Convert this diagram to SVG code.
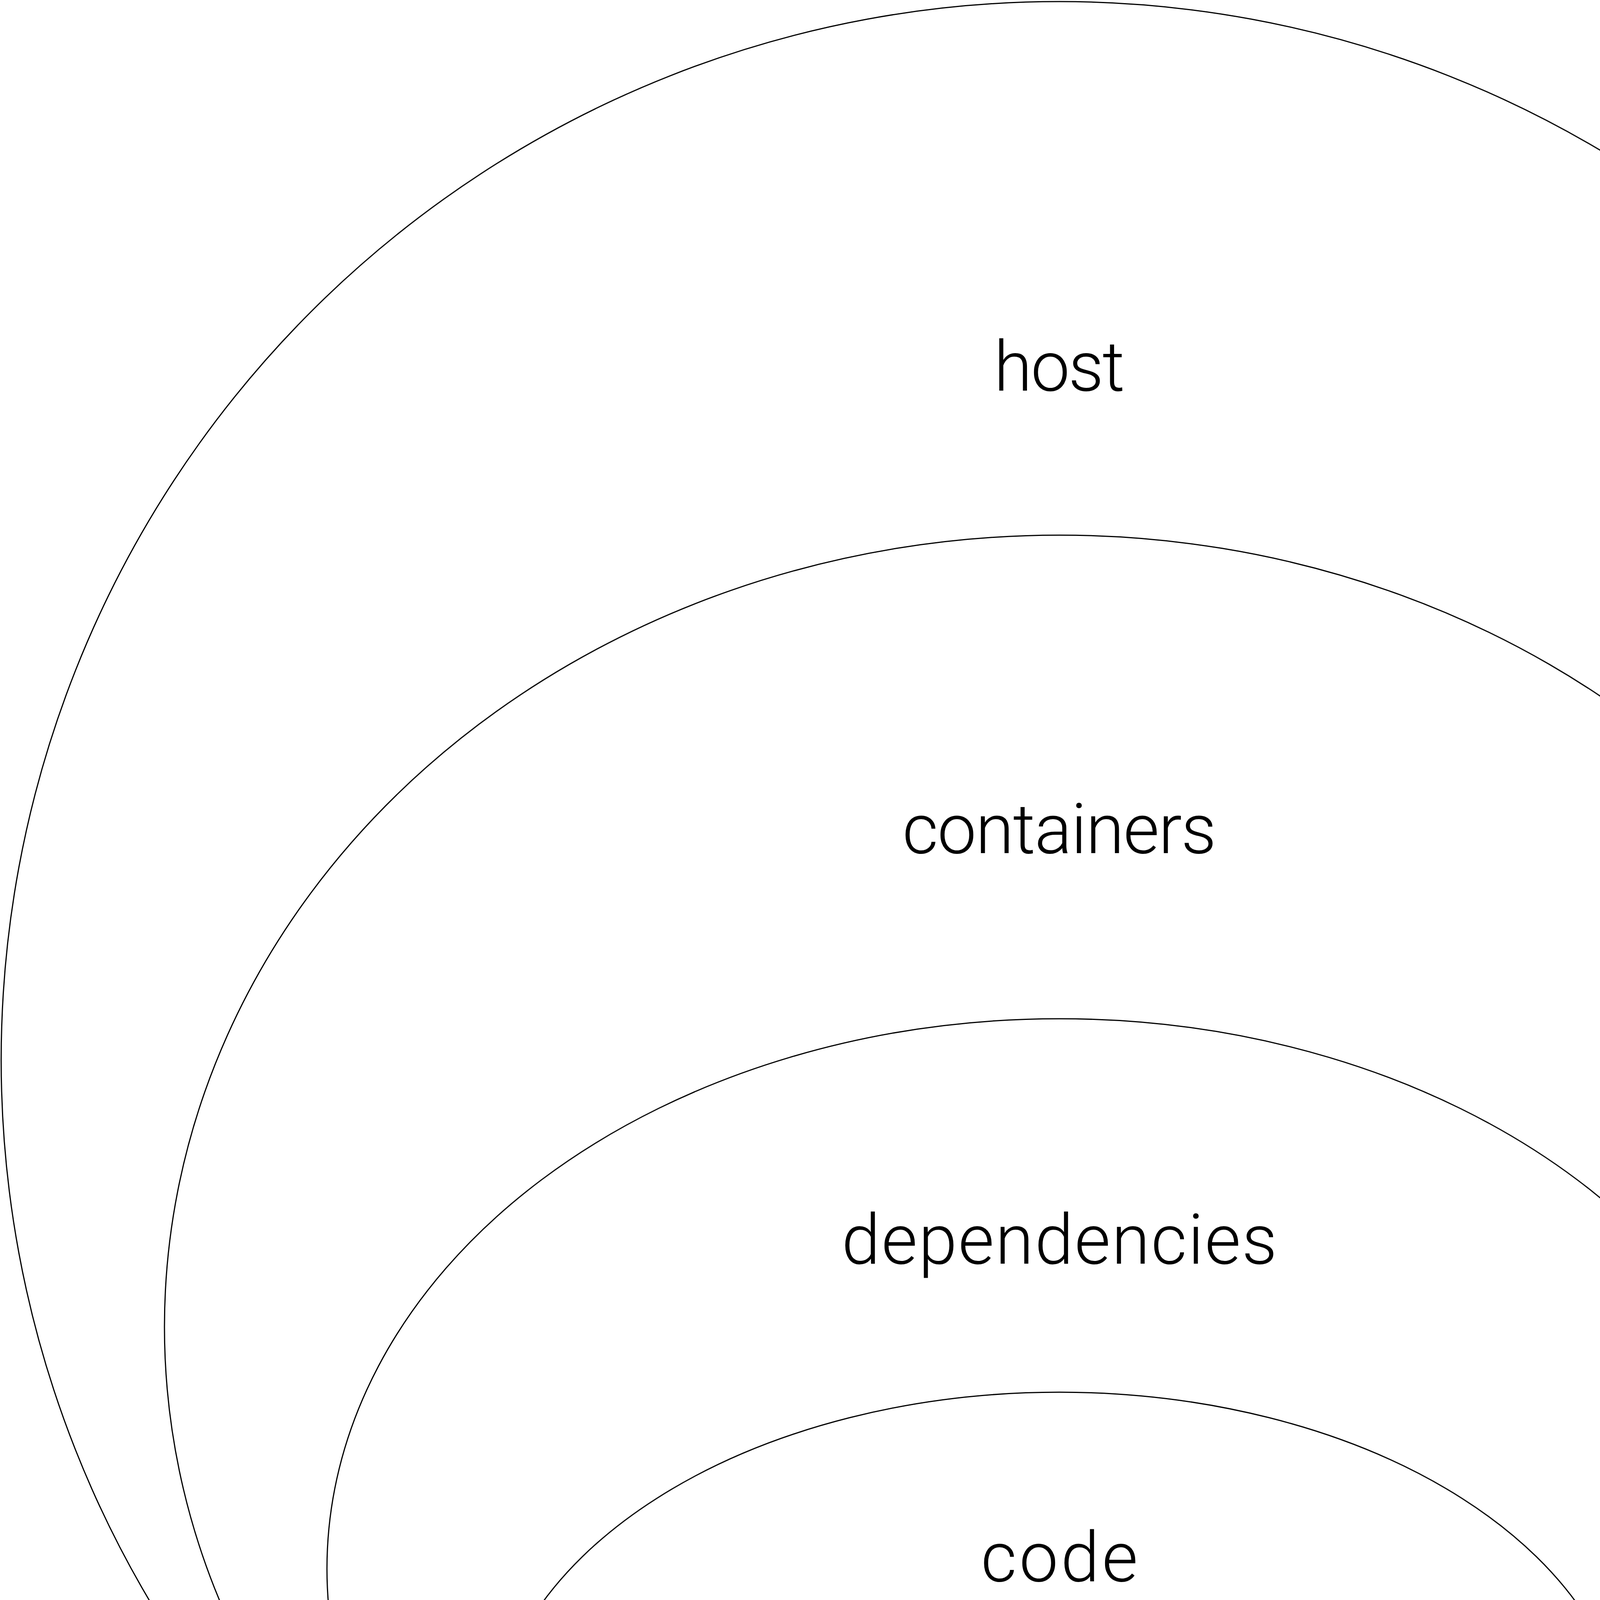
<svg xmlns="http://www.w3.org/2000/svg" width="5424" height="5429" viewBox="0 0 5424 5429">
  <style>
    .ring { fill: none; stroke: #000000; stroke-width: 3; }
    .label { font-family: Roboto, "Liberation Sans", "Noto Sans", sans-serif; font-weight: 300; font-size: 178px; fill: #000000; text-anchor: middle; }
  </style>
  <rect x="0" y="0" width="5424" height="5429" fill="#ffffff"/>
  <g id="host">
    <ellipse class="ring" cx="2712" cy="2714" rx="2709" ry="2710"/>
    <text class="label" x="2712" y="1000" textLength="335">host</text>
  </g>
  <g id="containers">
    <ellipse class="ring" cx="2712" cy="3397" rx="2291" ry="2027"/>
    <text class="label" x="2712" y="2184" textLength="804">containers</text>
  </g>
  <g id="dependencies">
    <ellipse class="ring" cx="2712" cy="4016" rx="1875" ry="1408"/>
    <text class="label" x="2712" y="3235" textLength="1115">dependencies</text>
  </g>
  <g id="code">
    <ellipse class="ring" cx="2712" cy="4494" rx="1459" ry="930"/>
    <text class="label" x="2712" y="4048" textLength="402">code</text>
  </g>
  <g id="config">
    <ellipse class="ring" cx="2712" cy="4814" rx="1042" ry="610"/>
    <text class="label" x="2712" y="4594" textLength="468">config</text>
  </g>
  <g id="user-data">
    <ellipse class="ring" cx="2712" cy="5098" rx="625" ry="326"/>
    <text class="label" x="2712" y="5168" textLength="731">user data</text>
  </g>
</svg>
